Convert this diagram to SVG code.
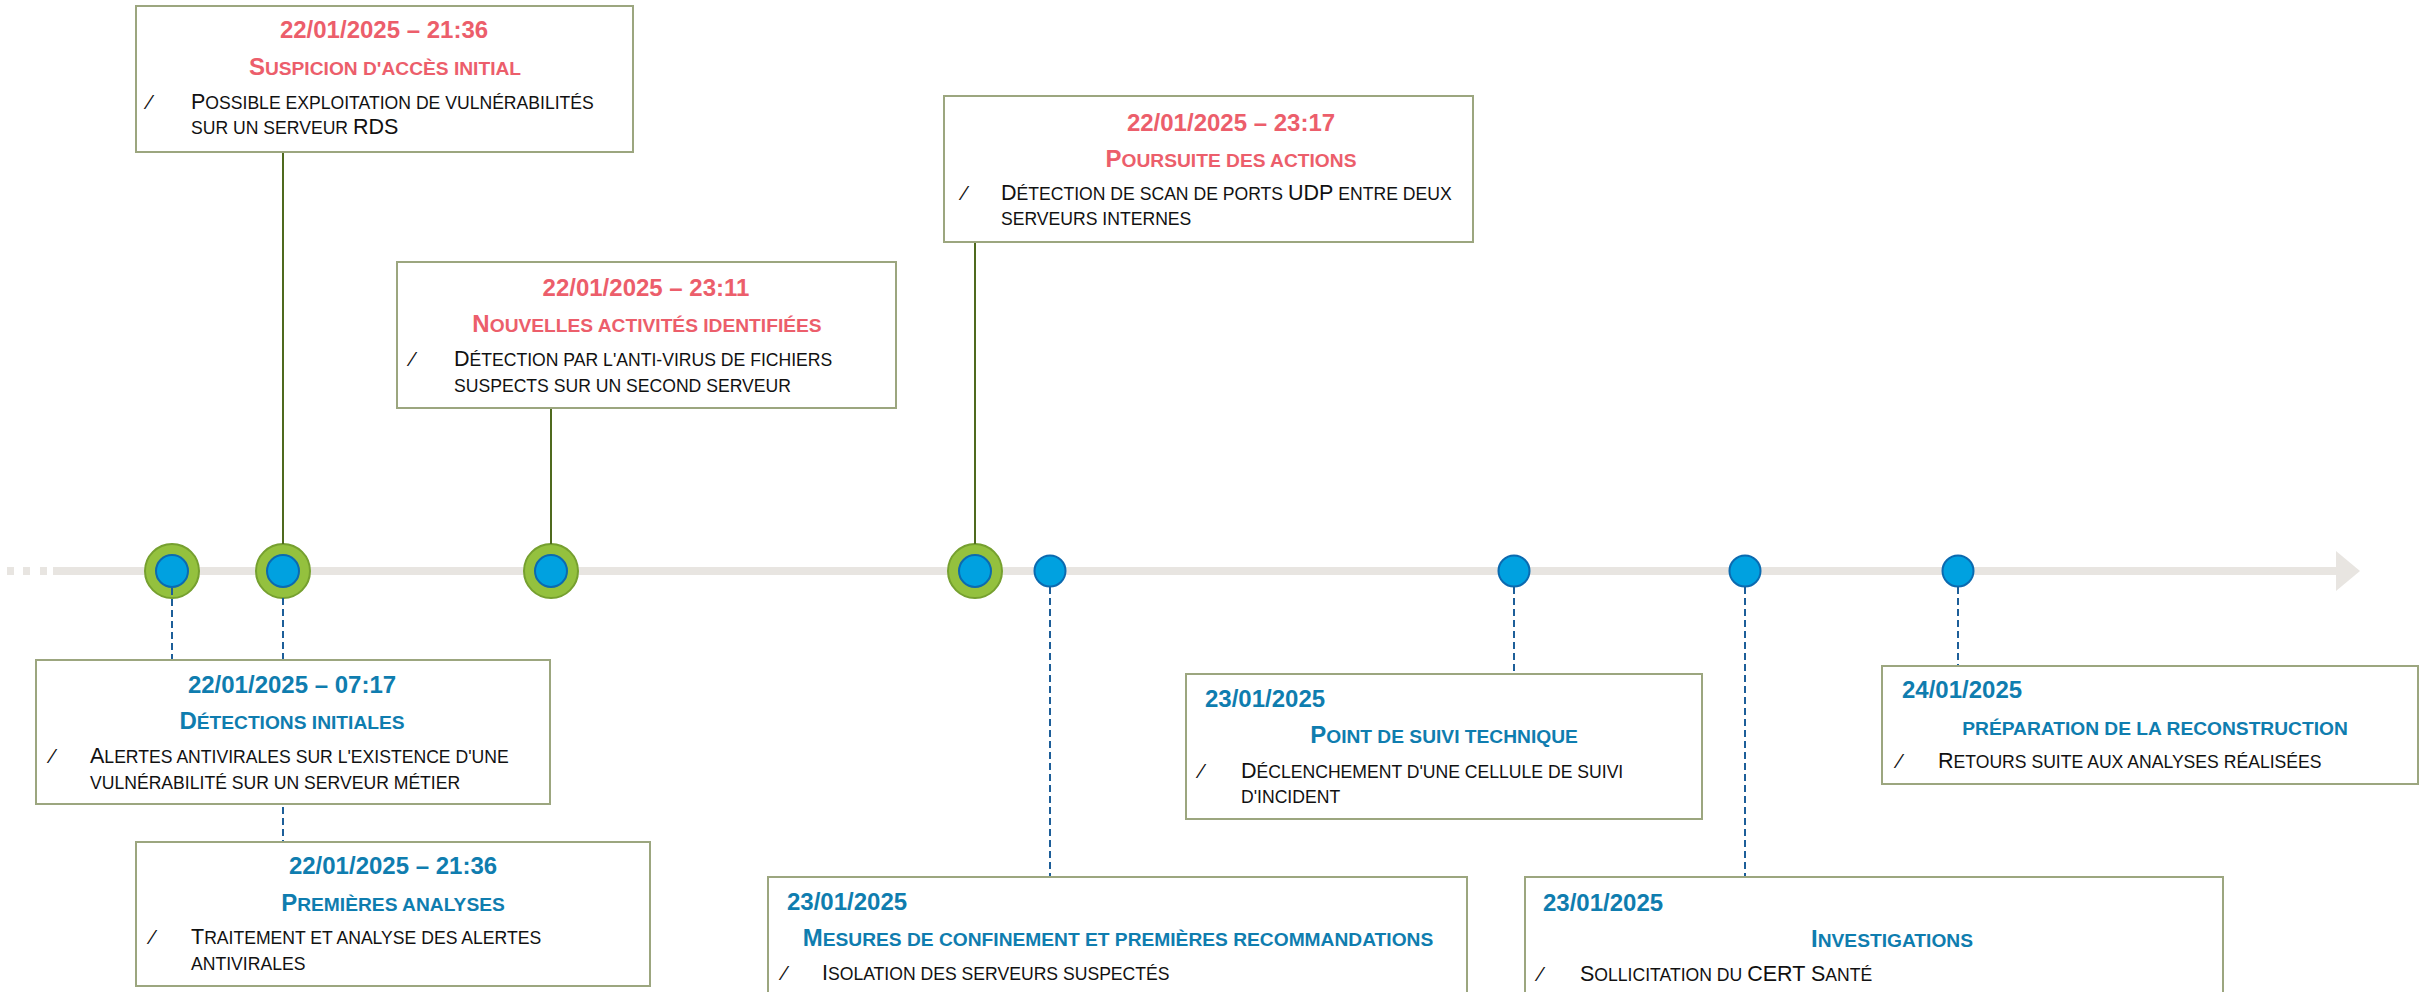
<svg xmlns="http://www.w3.org/2000/svg" width="2420" height="992" viewBox="0 0 2420 992">
<style>
  text { font-family: "Liberation Sans", Arial, sans-serif; }
  .box { fill: #ffffff; stroke: #9CA67F; stroke-width: 2; }
  .red { fill: #EC5E6B; }
  .blue { fill: #0F7DAF; }
  .date { font-size: 24px; font-weight: bold; }
  .title { font-size: 19.2px; font-weight: bold; }
  .title .cap { font-size: 24px; }
  .body { font-size: 17.6px; fill: #111111; }
  .body .cap { font-size: 21.5px; }
  .bullet { font-size: 21px; fill: #111111; }
  .mid { text-anchor: middle; }
  .outer { fill: #94C13E; stroke: #76A02F; stroke-width: 2; }
  .inner { fill: #00A1E0; stroke: #0B6AB0; stroke-width: 2; }
  .solid { stroke: #4F6A1E; stroke-width: 2; fill: none; }
  .dash { stroke: #1D5E99; stroke-width: 2; stroke-dasharray: 7 4; fill: none; }
</style>

<g id="axis">
  <rect x="7" y="567" width="7" height="8" fill="#E8E5E1"/>
  <rect x="23" y="567" width="7" height="8" fill="#E8E5E1"/>
  <rect x="40" y="567" width="7" height="8" fill="#E8E5E1"/>
  <rect x="53" y="567" width="2285" height="8" fill="#E8E5E1"/>
  <polygon points="2336,551 2360,571 2336,591" fill="#E8E5E1"/>
</g>

<g id="markers">
  <g id="m1"><circle class="outer" cx="172" cy="571" r="27"/><circle class="inner" cx="172" cy="571" r="16"/></g>
  <g id="m2"><circle class="outer" cx="283" cy="571" r="27"/><circle class="inner" cx="283" cy="571" r="16"/></g>
  <g id="m3"><circle class="outer" cx="551" cy="571" r="27"/><circle class="inner" cx="551" cy="571" r="16"/></g>
  <g id="m4"><circle class="outer" cx="975" cy="571" r="27"/><circle class="inner" cx="975" cy="571" r="16"/></g>
  <g id="m5"><circle class="inner" cx="1050" cy="571" r="15.5"/></g>
  <g id="m6"><circle class="inner" cx="1514" cy="571" r="15.5"/></g>
  <g id="m7"><circle class="inner" cx="1745" cy="571" r="15.5"/></g>
  <g id="m8"><circle class="inner" cx="1958" cy="571" r="15.5"/></g>
</g>

<g id="connectors">
  <line class="solid" x1="283" y1="152" x2="283" y2="544"/>
  <line class="solid" x1="551" y1="408" x2="551" y2="544"/>
  <line class="solid" x1="975" y1="242" x2="975" y2="544"/>
  <line class="dash" x1="172" y1="588" x2="172" y2="660"/>
  <line class="dash" x1="283" y1="598" x2="283" y2="842"/>
  <line class="dash" x1="1050" y1="587" x2="1050" y2="877"/>
  <line class="dash" x1="1514" y1="587" x2="1514" y2="674"/>
  <line class="dash" x1="1745" y1="587" x2="1745" y2="877"/>
  <line class="dash" x1="1958" y1="587" x2="1958" y2="666"/>
</g>

<g id="n1">
  <rect class="box" x="136" y="6" width="497" height="146"/>
  <text class="date red mid" x="384" y="38">22/01/2025 – 21:36</text>
  <text class="title red mid" x="385" y="75"><tspan class="cap">S</tspan>USPICION D'ACCÈS INITIAL</text>
  <text class="bullet" x="148" y="109">⁄</text>
  <text class="body" x="191" y="109"><tspan class="cap">P</tspan>OSSIBLE EXPLOITATION DE VULNÉRABILITÉS</text>
  <text class="body" x="191" y="134">SUR UN SERVEUR <tspan class="cap">RDS</tspan></text>
</g>

<g id="n2">
  <rect class="box" x="397" y="262" width="499" height="146"/>
  <text class="date red mid" x="646" y="296">22/01/2025 – 23:11</text>
  <text class="title red mid" x="647" y="332"><tspan class="cap">N</tspan>OUVELLES ACTIVITÉS IDENTIFIÉES</text>
  <text class="bullet" x="411" y="366">⁄</text>
  <text class="body" x="454" y="366"><tspan class="cap">D</tspan>ÉTECTION PAR L'ANTI-VIRUS DE FICHIERS</text>
  <text class="body" x="454" y="392">SUSPECTS SUR UN SECOND SERVEUR</text>
</g>

<g id="n3">
  <rect class="box" x="944" y="96" width="529" height="146"/>
  <text class="date red mid" x="1231" y="131">22/01/2025 – 23:17</text>
  <text class="title red mid" x="1231" y="167"><tspan class="cap">P</tspan>OURSUITE DES ACTIONS</text>
  <text class="bullet" x="963" y="200">⁄</text>
  <text class="body" x="1001" y="200"><tspan class="cap">D</tspan>ÉTECTION DE SCAN DE PORTS <tspan class="cap">UDP</tspan> ENTRE DEUX</text>
  <text class="body" x="1001" y="225">SERVEURS INTERNES</text>
</g>

<g id="n4">
  <rect class="box" x="36" y="660" width="514" height="144"/>
  <text class="date blue mid" x="292" y="693">22/01/2025 – 07:17</text>
  <text class="title blue mid" x="292" y="729"><tspan class="cap">D</tspan>ÉTECTIONS INITIALES</text>
  <text class="bullet" x="51" y="763">⁄</text>
  <text class="body" x="90" y="763"><tspan class="cap">A</tspan>LERTES ANTIVIRALES SUR L'EXISTENCE D'UNE</text>
  <text class="body" x="90" y="789">VULNÉRABILITÉ SUR UN SERVEUR MÉTIER</text>
</g>

<g id="n5">
  <rect class="box" x="136" y="842" width="514" height="144"/>
  <text class="date blue mid" x="393" y="874">22/01/2025 – 21:36</text>
  <text class="title blue mid" x="393" y="911"><tspan class="cap">P</tspan>REMIÈRES ANALYSES</text>
  <text class="bullet" x="151" y="944">⁄</text>
  <text class="body" x="191" y="944"><tspan class="cap">T</tspan>RAITEMENT ET ANALYSE DES ALERTES</text>
  <text class="body" x="191" y="970">ANTIVIRALES</text>
</g>

<g id="n6">
  <rect class="box" x="768" y="877" width="699" height="130"/>
  <text class="date blue" x="787" y="910">23/01/2025</text>
  <text class="title blue mid" x="1118" y="946"><tspan class="cap">M</tspan>ESURES DE CONFINEMENT ET PREMIÈRES RECOMMANDATIONS</text>
  <text class="bullet" x="783" y="980">⁄</text>
  <text class="body" x="822" y="980"><tspan class="cap">I</tspan>SOLATION DES SERVEURS SUSPECTÉS</text>
</g>

<g id="n7">
  <rect class="box" x="1186" y="674" width="516" height="145"/>
  <text class="date blue" x="1205" y="707">23/01/2025</text>
  <text class="title blue mid" x="1444" y="743"><tspan class="cap">P</tspan>OINT DE SUIVI TECHNIQUE</text>
  <text class="bullet" x="1200" y="778">⁄</text>
  <text class="body" x="1241" y="778"><tspan class="cap">D</tspan>ÉCLENCHEMENT D'UNE CELLULE DE SUIVI</text>
  <text class="body" x="1241" y="803">D'INCIDENT</text>
</g>

<g id="n8">
  <rect class="box" x="1525" y="877" width="698" height="130"/>
  <text class="date blue" x="1543" y="911">23/01/2025</text>
  <text class="title blue mid" x="1892" y="947"><tspan class="cap">I</tspan>NVESTIGATIONS</text>
  <text class="bullet" x="1539" y="981">⁄</text>
  <text class="body" x="1580" y="981"><tspan class="cap">S</tspan>OLLICITATION DU <tspan class="cap">CERT S</tspan>ANTÉ</text>
</g>

<g id="n9">
  <rect class="box" x="1882" y="666" width="536" height="118"/>
  <text class="date blue" x="1902" y="698">24/01/2025</text>
  <text class="title blue mid" x="2155" y="735">PRÉPARATION DE LA RECONSTRUCTION</text>
  <text class="bullet" x="1898" y="768">⁄</text>
  <text class="body" x="1938" y="768"><tspan class="cap">R</tspan>ETOURS SUITE AUX ANALYSES RÉALISÉES</text>
</g>
</svg>
